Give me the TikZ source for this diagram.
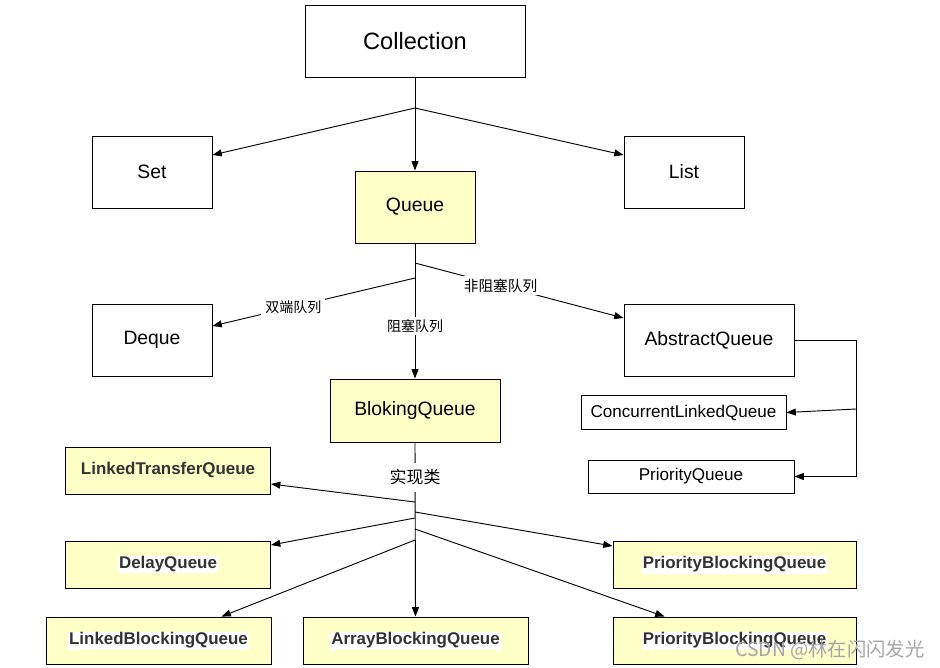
\documentclass[tikz,border=0pt]{standalone}
\usepackage{fontspec}
\setmainfont{Liberation Sans}
\newfontfamily\cjk{Noto Sans CJK SC}
\usetikzlibrary{calc,arrows.meta}
\definecolor{qyellow}{HTML}{FFFFC8}
\definecolor{dtext}{HTML}{333333}
\newcommand\whl[1]{{\setlength\fboxsep{0.8pt}\colorbox{white}{#1}}}
\begin{document}
\begin{tikzpicture}[x=0.75pt,y=-0.75pt,
  sz/.style 2 args={minimum width=#1*0.75pt, minimum height=#2*0.75pt},
  box/.style={draw=black, line width=0.7pt, fill=white, inner sep=0pt,
    font=\fontsize{14.5}{16}\selectfont},
  ybox/.style={box, fill=qyellow},
  sbox/.style={box, font=\fontsize{12.8}{15}\selectfont},
  ibox/.style={box, fill=qyellow, text=dtext, font=\fontsize{12.7}{15}\selectfont\bfseries},
  lbl/.style={fill=white, inner xsep=3pt, inner ysep=2pt, font=\cjk\fontsize{10.5}{12}\selectfont},
  conn/.style={line width=0.7pt, draw=black},
  arr/.style={conn, -{Triangle[length=7pt,width=5.2pt]}}
]
\useasboundingbox (0,0) rectangle (940,668);
% nodes
\node[box, sz={220}{72}, font=\fontsize{17.7}{20}\selectfont] (coll) at (415,41) {Collection};
\node[box, sz={120}{72}] (set) at (152,172) {Set};
\node[ybox, sz={120}{72}] (queue) at (415,207) {Queue};
\node[box, sz={120}{72}] (list) at (684,172) {List};
\node[box, sz={120}{72}] (deque) at (152,340) {Deque};
\node[box, sz={170}{72}] (absq) at (709,340) {AbstractQueue};
\node[ybox, sz={170}{63}] (blq) at (415,410.5) {BlokingQueue};
\node[sbox, sz={205}{34}] (clq) at (683.5,412.5) {ConcurrentLinkedQueue};
\node[sbox, sz={206}{33}] (pq) at (691,476.5) {PriorityQueue};
\node[ibox, sz={205}{47}] (ltq) at (168,470.5) {LinkedTransferQueue};
\node[ibox, sz={205}{47}] (dq) at (168,564.5) {\whl{DelayQueue}};
\node[ibox, sz={243}{47}] (pbqa) at (734.5,564.5) {\whl{PriorityBlockingQueue}};
\node[ibox, sz={225}{47}] (lbq) at (158.5,640.5) {\whl{LinkedBlockingQueue}};
\node[ibox, sz={225}{47}] (abq) at (415.5,640.5) {\whl{ArrayBlockingQueue}};
\node[ibox, sz={243}{47}] (pbqb) at (734.5,640.5) {\whl{PriorityBlockingQueue}};
% junctions
\coordinate (j1) at (415,108);
\coordinate (j2) at (415,278);
\coordinate (j3) at (415,263);
\coordinate (r1) at (856,340);
\coordinate (r2) at (856,409);
\coordinate (k1) at (415,502);
\coordinate (k2) at (415,512);
\coordinate (k3) at (415,518);
\coordinate (k4) at (415,529);
\coordinate (k5) at (415,540);
% Collection level
\draw[conn] (coll.south) -- (j1);
\draw[arr] (j1) -- (queue.north);
\draw[arr] (j1) -- ($(set.east)+(0,-17)$);
\draw[arr] (j1) -- ($(list.west)+(0,-17)$);
% Queue level
\draw[arr] (queue.south) -- node[lbl, pos=0.61] {阻塞队列} (blq.north);
\draw[arr] (j2) -- node[lbl, pos=0.6] {双端队列} ($(deque.east)+(0,-14)$);
\draw[arr] (j3) -- node[lbl, pos=0.41, font=\cjk\fontsize{11}{13}\selectfont] {非阻塞队列} ($(absq.west)+(0,-22)$);
% AbstractQueue implementations
\draw[arr] (absq.east) -- (r1) |- (pq.east);
\draw[arr] (r2) -- (clq.east);
% BlockingQueue implementations
\draw[arr] (blq.south) -- node[lbl, pos=0.2, inner ysep=5pt, font=\cjk\fontsize{12.7}{14}\selectfont] {实现类} (abq.north);
\draw[arr] (k1) -- ($(ltq.east)+(0,13.5)$);
\draw[arr] (k2) -- ($(pbqa.west)+(0,-18.5)$);
\draw[arr] (k3) -- ($(dq.east)+(0,-19.5)$);
\draw[arr] (k4) -- ($(pbqb.north west)+(52,0)$);
\draw[arr] (k5) -- ($(lbq.north west)+(176,0)$);
% watermark
\node[text=black!35, font=\cjk\fontsize{14.5}{16}\selectfont, inner sep=0pt] (wm) at (830,650) {CSDN @林在闪闪发光};
\end{tikzpicture}
\end{document}
